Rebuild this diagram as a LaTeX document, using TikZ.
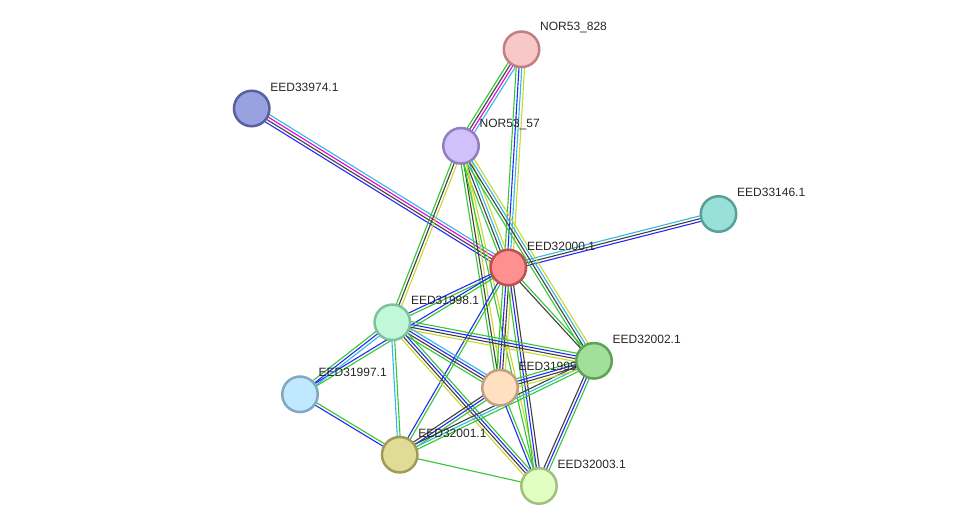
\documentclass[tikz,border=0pt]{standalone}
\usepackage{fontspec}
\setmainfont{Liberation Sans}
\usetikzlibrary{calc}
\pgfdeclarelayer{edges}
\pgfdeclarelayer{labels}
\pgfsetlayers{edges,labels,main}

% evidence channel colours
\definecolor{sg}{RGB}{50,200,50}
\definecolor{sb}{RGB}{40,40,245}
\definecolor{sk}{RGB}{64,64,64}
\definecolor{sm}{RGB}{225,0,225}
\definecolor{sc}{RGB}{50,185,225}
\definecolor{sy}{RGB}{200,215,50}

\tikzset{
  prot/.style={circle, minimum size=35.5pt, inner sep=0pt, line width=2.5pt},
  lbl/.style={anchor=west, inner sep=0pt, text=black!85,
              font=\fontsize{12}{14}\selectfont},
  edgeline/.style={line width=1.1pt},
}

% one bundle of parallel lines between two nodes, one line per colour
\newcommand\edge[3]{%
  \foreach \c [count=\k] in {#3}{\xdef\edgecount{\k}}%
  \foreach \c [count=\k] in {#3}{%
    \pgfmathsetmacro\off{(\k-(\edgecount+1)/2)*2.8}%
    \draw[\c, edgeline] ($(#1)!\off pt!90:(#2)$) -- ($(#2)!\off pt!-90:(#1)$);
  }}

% protein name, placed up and right of its node
\newcommand\plabel[3]{\node[lbl] (#1) at ($(#2)+(18.5,-21.5)$) {#3};}

\begin{document}
\begin{tikzpicture}[x=1pt, y=-1pt]
\useasboundingbox (0,0) rectangle (975,532);

% proteins
\node[prot, fill={rgb,255:red,248;green,200;blue,200}, draw={rgb,255:red,192;green,128;blue,128}] (n828) at (521.5,49.3) {};
\node[prot, fill={rgb,255:red,152;green,162;blue,224}, draw={rgb,255:red,88;green,96;blue,160}] (n974) at (251.7,108.5) {};
\node[prot, fill={rgb,255:red,210;green,192;blue,250}, draw={rgb,255:red,144;green,128;blue,192}] (n57) at (461,145.8) {};
\node[prot, fill={rgb,255:red,152;green,224;blue,216}, draw={rgb,255:red,88;green,160;blue,152}] (n146) at (718.5,214) {};
\node[prot, fill={rgb,255:red,255;green,144;blue,144}, draw={rgb,255:red,192;green,80;blue,80}] (n000) at (508.3,267.5) {};
\node[prot, fill={rgb,255:red,192;green,248;blue,216}, draw={rgb,255:red,128;green,192;blue,160}] (n998) at (392.3,322.3) {};
\node[prot, fill={rgb,255:red,160;green,224;blue,152}, draw={rgb,255:red,96;green,160;blue,88}] (n002) at (594,360.8) {};
\node[prot, fill={rgb,255:red,192;green,232;blue,255}, draw={rgb,255:red,128;green,168;blue,192}] (n997) at (300,394.3) {};
\node[prot, fill={rgb,255:red,255;green,224;blue,192}, draw={rgb,255:red,192;green,160;blue,128}] (n999) at (500,387.7) {};
\node[prot, fill={rgb,255:red,224;green,220;blue,152}, draw={rgb,255:red,160;green,156;blue,88}] (n001) at (399.7,454.7) {};
\node[prot, fill={rgb,255:red,224;green,255;blue,192}, draw={rgb,255:red,160;green,192;blue,128}] (n003) at (539,486) {};

% labels
\begin{pgfonlayer}{labels}
\plabel{t828}{n828}{NOR53\_828}
\plabel{t974}{n974}{EED33974.1}
\plabel{t57}{n57}{NOR53\_57}
\plabel{t146}{n146}{EED33146.1}
\plabel{t000}{n000}{EED32000.1}
\plabel{t998}{n998}{EED31998.1}
\plabel{t002}{n002}{EED32002.1}
\plabel{t997}{n997}{EED31997.1}
\plabel{t999}{n999}{EED31999.1}
\plabel{t001}{n001}{EED32001.1}
\plabel{t003}{n003}{EED32003.1}
\end{pgfonlayer}

% interactions
\begin{pgfonlayer}{edges}
\edge{n828}{n57}{sg,sk,sm,sc}
\edge{n828}{n000}{sg,sb,sc,sy}
\edge{n974}{n000}{sb,sk,sm,sc}
\edge{n146}{n000}{sc,sk,sb}
\edge{n57}{n000}{sg,sk,sc,sy}
\edge{n57}{n998}{sg,sk,sy}
\edge{n57}{n002}{sg,sk,sc,sy}
\edge{n57}{n999}{sg,sk,sy}
\edge{n57}{n003}{sg,sy}
\edge{n000}{n998}{sb,sg}
\edge{n000}{n997}{sb,sg}
\edge{n000}{n002}{sk,sg}
\edge{n000}{n999}{sg,sb,sk,sy}
\edge{n000}{n003}{sg,sb,sk}
\edge{n000}{n001}{sb,sg}
\edge{n998}{n997}{sg,sb,sc}
\edge{n998}{n001}{sc,sg}
\edge{n998}{n002}{sy,sk,sb,sg}
\edge{n998}{n999}{sg,sk,sb,sc}
\edge{n998}{n003}{sy,sk,sb,sg}
\edge{n997}{n001}{sb,sg}
\edge{n001}{n003}{sg}
\edge{n001}{n999}{sg,sb,sk}
\edge{n001}{n002}{sg,sc,sk}
\edge{n999}{n002}{sy,sk,sb,sg}
\edge{n999}{n003}{sb,sg}
\edge{n002}{n003}{sk,sb,sg}
\end{pgfonlayer}
\end{tikzpicture}
\end{document}
